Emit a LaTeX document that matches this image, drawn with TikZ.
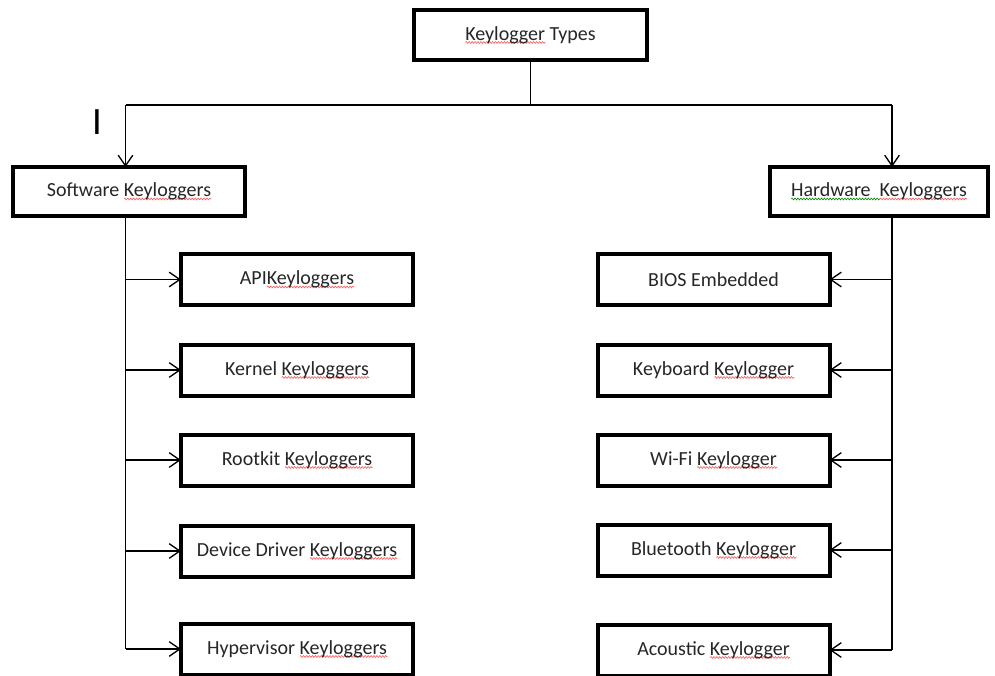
\documentclass[tikz,border=0pt]{standalone}
\usepackage{fontspec}
\setmainfont{Carlito}
\usetikzlibrary{arrows.meta,decorations.pathmorphing}
\newsavebox\sqbox
\newcommand\sqline[2]{\sbox\sqbox{#2}\rlap{\raisebox{-2.6pt}[0pt][0pt]{\tikz[x=1pt,y=1pt]\draw[#1,line width=0.45pt,decorate,decoration={zigzag,segment length=2.2pt,amplitude=0.7pt}] (0,0) -- (\the\wd\sqbox,0);}}\usebox\sqbox}
\newcommand\rsq[1]{\sqline{red!65}{#1}}
\newcommand\gsq[1]{\sqline{green!50!black}{#1}}
\begin{document}
\begin{tikzpicture}[x=0.75pt,y=-0.75pt,
  box/.style={draw,line width=3pt,line join=miter,inner sep=0pt,outer sep=0pt,
    minimum width=174pt,minimum height=38.25pt,font=\fontsize{15}{18}\selectfont,text=black!85},
  conn/.style={line width=1pt},
  arr/.style={conn,-{Straight Barb[length=8pt,width=11pt,line width=1pt]}}]
\useasboundingbox (0,0) rectangle (995,675);

% top
\node[box,minimum width=174.75pt,minimum height=37.5pt] (top) at (530.5,35) {\rsq{Keylogger} Types};
% level 1
\node[box,minimum height=36.75pt] (soft) at (129,191.5) {Software \rsq{Keyloggers}};
\node[box,minimum width=163.5pt,minimum height=36.75pt] (hard) at (879,191.5) {\gsq{Hardware\hspace{0.45em}}\rsq{Keyloggers}};
% left children
\node[box] (api) at (297,279.5) {API\rsq{Keyloggers}};
\node[box] (kern) at (297,370) {Kernel \rsq{Keyloggers}};
\node[box] (root) at (297,460) {Rootkit \rsq{Keyloggers}};
\node[box] (dev) at (297,551) {Device Driver \rsq{Keyloggers}};
\node[box] (hyp) at (297,649) {Hypervisor \rsq{Keyloggers}};
% right children
\node[box] (bios) at (713.5,279.5) {BIOS Embedded};
\node[box] (kbd) at (713.5,370) {Keyboard \rsq{Keylogger}};
\node[box] (wifi) at (713.5,460) {Wi-Fi \rsq{Keylogger}};
\node[box] (blue) at (713.5,550) {Bluetooth \rsq{Keylogger}};
\node[box] (aco) at (713.5,650) {Acoustic \rsq{Keylogger}};

% stray mark
\node[inner sep=0pt,font=\fontsize{29}{29}\selectfont] (mark) at (97.5,122) {I};

% connectors
\coordinate (jL) at (125.5,105);
\coordinate (jR) at (892,105);
\draw[conn] (top.south) -- (top.south |- jL);
\draw[conn] (jL) -- (jR);
\draw[arr] (jL) -- (jL |- soft.north);
\draw[arr] (jR) -- (jR |- hard.north);

\draw[conn] (jL |- soft.south) -- (jL |- hyp.west);
\foreach \n in {api,kern,root,dev,hyp}
  \draw[arr] (jL |- \n.west) -- (\n.west);

\draw[conn] (jR |- hard.south) -- (jR |- aco.east);
\foreach \n in {bios,kbd,wifi,blue,aco}
  \draw[arr] (jR |- \n.east) -- (\n.east);
\end{tikzpicture}
\end{document}
